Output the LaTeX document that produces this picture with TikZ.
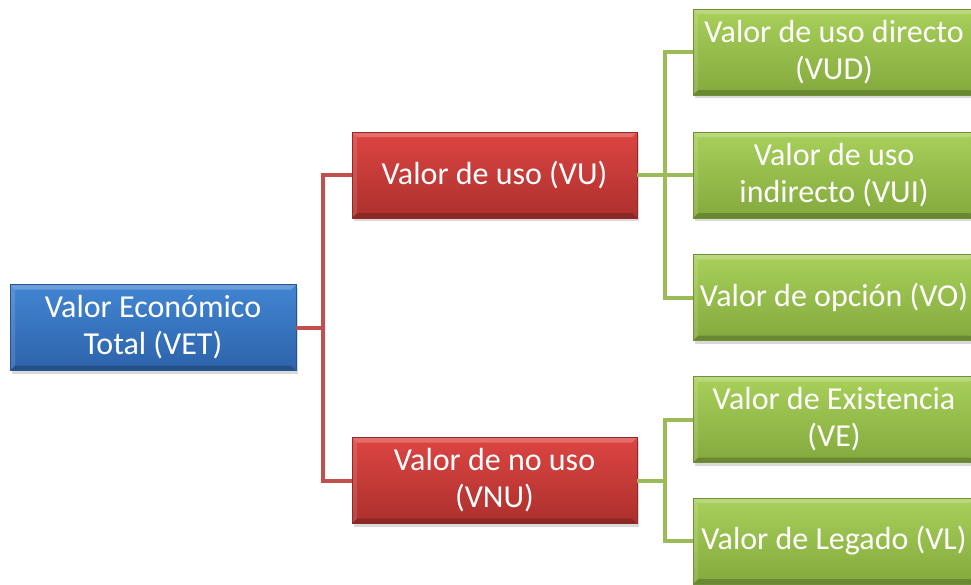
\documentclass[tikz,border=0pt]{standalone}
\usepackage{fontspec}
\setmainfont{Carlito}
\usetikzlibrary{calc,shadows}

\definecolor{bluetop}{HTML}{4285D2}
\definecolor{bluebot}{HTML}{2D63AA}
\definecolor{redtop}{HTML}{DC4542}
\definecolor{redbot}{HTML}{AC302D}
\definecolor{greentop}{HTML}{A8D05A}
\definecolor{greenbot}{HTML}{83A93D}
\definecolor{redline}{HTML}{C0504D}
\definecolor{greenline}{HTML}{9BBB59}

\tikzset{
  valbox/.style={minimum height=86pt, inner sep=0pt,
    align=center, text=white, font=\fontsize{32}{37}\selectfont,
    line width=0.5pt,
    drop shadow={shadow xshift=2pt, shadow yshift=-3pt, opacity=0.3},
    path picture={
      \fill[white,opacity=0.22] (path picture bounding box.north west)
        -- (path picture bounding box.north east) -- ++(-5pt,-5pt)
        -- ($(path picture bounding box.north west)+(5pt,-5pt)$) -- cycle;
      \fill[black,opacity=0.2] (path picture bounding box.south west)
        -- (path picture bounding box.south east) -- ++(-5pt,5pt)
        -- ($(path picture bounding box.south west)+(5pt,5pt)$) -- cycle;
      \fill[white,opacity=0.12] (path picture bounding box.north west)
        -- (path picture bounding box.south west) -- ++(5pt,5pt)
        -- ($(path picture bounding box.north west)+(5pt,-5pt)$) -- cycle;
    }},
  totalbox/.style={valbox, minimum width=286pt, draw=bluebot!85!black,
    top color=bluetop, bottom color=bluebot},
  usebox/.style={valbox, minimum width=285pt, draw=redbot!85!black,
    top color=redtop, bottom color=redbot},
  kindbox/.style={valbox, minimum width=282pt, draw=greenbot!85!black,
    top color=greentop, bottom color=greenbot},
  redlink/.style={draw=redline, line width=4pt},
  greenlink/.style={draw=greenline, line width=4pt}
}

\begin{document}
\begin{tikzpicture}[x=1pt, y=-1pt]
  \useasboundingbox (0,0) rectangle (971,584);

  % root
  \node[totalbox] (vet) at (153,327.5) {Valor Económico\\Total (VET)};

  % first level
  \node[usebox] (vu) at (494.5,175) {Valor de uso (VU)};
  \node[usebox] (vnu) at (494.5,480.5) {Valor de no uso\\(VNU)};

  % second level
  \node[kindbox] (vud) at (834,52) {Valor de uso directo\\(VUD)};
  \node[kindbox] (vui) at (834,175) {Valor de uso\\indirecto (VUI)};
  \node[kindbox] (vo) at (834,297.5) {Valor de opción (VO)};
  \node[kindbox] (ve) at (834,419.5) {Valor de Existencia\\(VE)};
  \node[kindbox] (vl) at (834,541) {Valor de Legado (VL)};

  % links
  \draw[redlink] (vet.east) -- ++(27,0) |- (vu.west);
  \draw[redlink] (vet.east) -- ++(27,0) |- (vnu.west);

  \draw[greenlink] (vu.east) -- ++(28,0) |- (vud.west);
  \draw[greenlink] (vu.east) -- (vui.west);
  \draw[greenlink] (vu.east) -- ++(28,0) |- (vo.west);

  \draw[greenlink] (vnu.east) -- ++(28,0) |- (ve.west);
  \draw[greenlink] (vnu.east) -- ++(28,0) |- (vl.west);
\end{tikzpicture}
\end{document}
